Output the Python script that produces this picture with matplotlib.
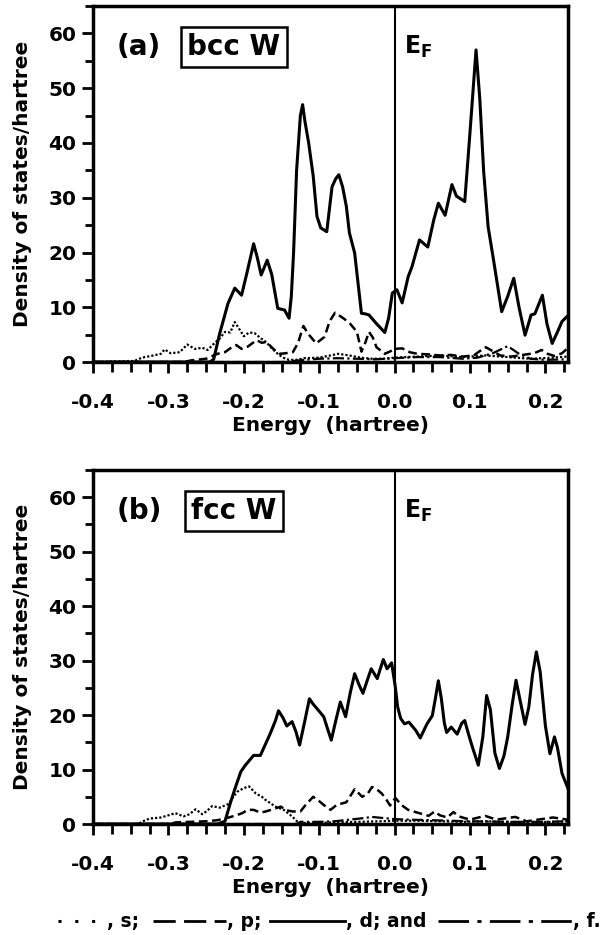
import matplotlib
matplotlib.use("Agg")
import matplotlib.pyplot as plt
from matplotlib.lines import Line2D
from matplotlib.ticker import MultipleLocator

plt.rcParams["font.family"] = "DejaVu Sans"
plt.rcParams["font.weight"] = "bold"
plt.rcParams["mathtext.fontset"] = "dejavusans"

# ---- bcc W partial densities of states (states/hartree) ----
bcc_d_E = [-0.40, -0.245, -0.240, -0.232, -0.221, -0.212, -0.203, -0.196, -0.187, -0.182,
           -0.177, -0.169, -0.163, -0.155, -0.146, -0.140, -0.137, -0.134, -0.130, -0.125,
           -0.122, -0.119, -0.114, -0.108, -0.103, -0.098, -0.090, -0.083, -0.078, -0.074,
           -0.069, -0.064, -0.060, -0.053, -0.044, -0.039, -0.034, -0.024, -0.013, -0.008,
           -0.003, 0.003, 0.010, 0.018, 0.023, 0.033, 0.044, 0.052, 0.058, 0.067,
           0.076, 0.082, 0.093, 0.100, 0.108, 0.113, 0.118, 0.124, 0.131, 0.142,
           0.150, 0.158, 0.165, 0.173, 0.181, 0.186, 0.196, 0.202, 0.209, 0.216,
           0.222, 0.230]
bcc_d = [0.0, 0.0, 0.5, 5.2, 10.7, 13.5, 12.2, 16.2, 21.6, 19.0,
         15.9, 18.6, 16.0, 9.8, 9.5, 8.0, 12.0, 20.0, 35.0, 45.0,
         47.0, 44.0, 40.0, 34.0, 26.6, 24.5, 23.8, 32.0, 33.5, 34.2,
         32.0, 28.4, 23.6, 19.9, 8.9, 8.8, 8.6, 7.0, 5.4, 8.0,
         12.6, 13.2, 10.8, 15.6, 17.4, 22.3, 21.0, 26.0, 29.0, 26.8,
         32.4, 30.3, 29.3, 42.0, 57.0, 48.0, 35.0, 24.7, 18.8, 9.2,
         12.0, 15.3, 10.0, 4.9, 8.6, 8.8, 12.2, 7.0, 3.4, 5.5,
         7.4, 8.5]

bcc_p_E = [-0.40, -0.28, -0.27, -0.25, -0.235, -0.225, -0.215, -0.210, -0.203, -0.195,
           -0.183, -0.176, -0.170, -0.161, -0.152, -0.145, -0.135, -0.128, -0.121, -0.115,
           -0.104, -0.093, -0.086, -0.079, -0.068, -0.059, -0.050, -0.044, -0.039, -0.034,
           -0.029, -0.024, -0.013, -0.005, 0.000, 0.010, 0.020, 0.030, 0.045, 0.060,
           0.075, 0.090, 0.105, 0.113, 0.121, 0.130, 0.140, 0.155, 0.170, 0.185,
           0.195, 0.203, 0.212, 0.222, 0.230]
bcc_p = [0.0, 0.0, 0.3, 0.6, 1.5, 1.8, 2.8, 3.1, 2.4, 2.8,
         4.0, 3.5, 3.7, 2.4, 1.5, 1.6, 1.8, 3.5, 6.6, 5.2,
         3.4, 4.6, 7.5, 9.0, 8.0, 7.0, 5.5, 1.9, 3.5, 5.5,
         4.5, 2.7, 1.5, 2.0, 2.4, 2.5, 1.8, 1.5, 1.4, 1.2,
         1.3, 1.0, 1.2, 2.0, 2.7, 2.0, 1.2, 1.0, 1.3, 1.6,
         2.2, 1.5, 1.1, 1.6, 2.6]

bcc_s_E = [-0.40, -0.345, -0.335, -0.320, -0.310, -0.305, -0.297, -0.285, -0.275, -0.265,
           -0.255, -0.248, -0.240, -0.232, -0.225, -0.218, -0.212, -0.205, -0.200, -0.193,
           -0.186, -0.178, -0.170, -0.163, -0.155, -0.148, -0.140, -0.130, -0.120, -0.100,
           -0.085, -0.075, -0.060, -0.045, -0.030, -0.015, 0.000, 0.030, 0.060, 0.090,
           0.120, 0.150, 0.180, 0.210, 0.230]
bcc_s = [0.0, 0.2, 0.8, 1.2, 1.5, 2.3, 1.6, 1.8, 3.2, 2.4,
         2.6, 2.2, 3.3, 4.3, 5.5, 5.4, 7.3, 5.8, 4.7, 5.4,
         5.3, 4.4, 3.6, 2.5, 1.5, 0.8, 0.4, 0.4, 0.7, 0.8,
         1.2, 1.5, 1.2, 0.8, 0.6, 0.6, 0.8, 1.0, 1.2, 0.9,
         1.2, 0.9, 0.6, 0.8, 1.0]

bcc_f_E = [-0.40, -0.150, -0.140, -0.120, -0.100, -0.075, -0.050, -0.025, 0.000, 0.030,
           0.060, 0.090, 0.110, 0.130, 0.150, 0.165, 0.180, 0.200, 0.230]
bcc_f = [0.0, 0.0, 0.1, 0.4, 0.6, 0.7, 0.6, 0.5, 0.7, 0.9,
         0.9, 0.6, 0.8, 1.6, 2.9, 1.5, 0.6, 0.4, 0.5]

# ---- fcc W partial densities of states (states/hartree) ----
fcc_d_E = [-0.40, -0.235, -0.225, -0.218, -0.211, -0.204, -0.198, -0.187, -0.178, -0.165,
           -0.158, -0.154, -0.148, -0.143, -0.136, -0.131, -0.126, -0.119, -0.113, -0.108,
           -0.103, -0.094, -0.089, -0.084, -0.078, -0.072, -0.065, -0.059, -0.053, -0.047,
           -0.042, -0.036, -0.031, -0.023, -0.019, -0.015, -0.010, -0.004, 0.001, 0.004,
           0.008, 0.013, 0.019, 0.028, 0.034, 0.043, 0.050, 0.054, 0.058, 0.062,
           0.066, 0.069, 0.075, 0.083, 0.089, 0.093, 0.098, 0.103, 0.111, 0.117,
           0.122, 0.127, 0.133, 0.139, 0.145, 0.150, 0.156, 0.161, 0.166, 0.173,
           0.178, 0.183, 0.188, 0.193, 0.200, 0.206, 0.212, 0.216, 0.222, 0.230]
fcc_d = [0.0, 0.0, 0.5, 3.8, 6.8, 9.6, 10.8, 12.6, 12.6, 16.6,
         19.0, 20.8, 19.5, 18.0, 18.8, 17.0, 14.5, 19.0, 23.0, 22.0,
         21.2, 19.7, 17.5, 15.4, 19.0, 22.4, 19.7, 24.0, 27.6, 25.5,
         24.0, 26.5, 28.5, 26.7, 28.5, 30.2, 28.5, 29.6, 25.1, 21.5,
         19.4, 18.4, 18.7, 17.2, 15.8, 18.4, 19.9, 23.0, 26.3, 23.0,
         18.5, 16.8, 17.8, 16.5, 18.5, 19.0, 16.5, 14.2, 10.8, 16.0,
         23.6, 21.0, 13.0, 10.2, 12.5, 16.0, 22.0, 26.4, 23.0, 18.3,
         21.5, 27.5, 31.6, 28.0, 18.0, 12.9, 16.0, 14.0, 9.3, 6.5]

fcc_p_E = [-0.40, -0.300, -0.290, -0.270, -0.250, -0.235, -0.220, -0.210, -0.202, -0.195,
           -0.187, -0.178, -0.171, -0.164, -0.151, -0.143, -0.135, -0.125, -0.118, -0.108,
           -0.100, -0.094, -0.085, -0.077, -0.064, -0.053, -0.043, -0.036, -0.030, -0.023,
           -0.017, -0.011, -0.006, 0.001, 0.009, 0.018, 0.030, 0.045, 0.053, 0.060,
           0.070, 0.078, 0.085, 0.100, 0.120, 0.135, 0.160, 0.175, 0.190, 0.210,
           0.230]
fcc_p = [0.0, 0.0, 0.3, 0.4, 0.5, 0.7, 1.2, 1.6, 2.0, 2.6,
         2.6, 2.1, 2.3, 2.6, 3.2, 2.5, 2.3, 2.3, 3.5, 5.0,
         4.2, 3.5, 2.6, 3.5, 4.0, 6.4, 5.0, 5.5, 6.8, 6.3,
         5.6, 4.5, 3.4, 4.8, 3.5, 2.6, 2.1, 1.5, 2.3, 1.6,
         1.2, 2.2, 1.4, 0.8, 1.5, 0.8, 1.3, 0.5, 0.8, 1.2,
         0.8]

fcc_s_E = [-0.40, -0.340, -0.334, -0.325, -0.310, -0.300, -0.291, -0.280, -0.272, -0.264,
           -0.255, -0.248, -0.242, -0.232, -0.220, -0.214, -0.209, -0.200, -0.193, -0.184,
           -0.176, -0.171, -0.158, -0.147, -0.136, -0.128, -0.120, -0.100, -0.080, -0.050,
           -0.020, 0.000, 0.030, 0.060, 0.090, 0.120, 0.150, 0.180, 0.210, 0.230]
fcc_s = [0.0, 0.0, 0.5, 1.0, 1.2, 1.6, 2.0, 1.4, 1.8, 2.7,
         1.8, 2.5, 3.3, 3.0, 3.7, 5.0, 5.9, 6.6, 6.9, 5.6,
         5.0, 4.4, 3.2, 2.6, 1.4, 0.3, 0.2, 0.2, 0.3, 0.4,
         0.5, 0.6, 0.6, 0.5, 0.4, 0.5, 0.4, 0.3, 0.4, 0.5]

fcc_f_E = [-0.40, -0.130, -0.125, -0.100, -0.080, -0.060, -0.040, -0.030, -0.015, 0.000,
           0.020, 0.050, 0.100, 0.150, 0.200, 0.230]
fcc_f = [0.0, 0.0, 0.4, 0.4, 0.5, 0.8, 1.1, 1.3, 1.1, 0.9,
         0.8, 0.7, 0.5, 0.4, 0.4, 0.5]

panels = [
    ("(a)", "bcc W", bcc_s_E, bcc_s, bcc_p_E, bcc_p, bcc_d_E, bcc_d, bcc_f_E, bcc_f),
    ("(b)", "fcc W", fcc_s_E, fcc_s, fcc_p_E, fcc_p, fcc_d_E, fcc_d, fcc_f_E, fcc_f),
]

s_style = dict(color="black", lw=1.6, linestyle=(0, (1.0, 0.9)))
p_style = dict(color="black", lw=1.8, linestyle=(0, (3.5, 1.8)))
d_style = dict(color="black", lw=2.2, linestyle="-")
f_style = dict(color="black", lw=1.6, linestyle=(0, (5, 1.5, 1, 1.5)))

fig = plt.figure(figsize=(6.1, 9.35), dpi=100)
axes_rects = [[0.1525, 0.6128, 0.7787, 0.3807],
              [0.1525, 0.1187, 0.7787, 0.3786]]

for rect, (tag, name, sE, s, pE, p, dE, d, fE, f) in zip(axes_rects, panels):
    ax = fig.add_axes(rect)
    ax.plot(sE, s, **s_style)
    ax.plot(pE, p, **p_style)
    ax.plot(fE, f, **f_style)
    ax.plot(dE, d, **d_style)
    ax.axvline(0.0, color="black", lw=1.5)

    ax.set_xlim(-0.4, 0.23)
    ax.set_ylim(0, 65)
    ax.xaxis.set_major_locator(MultipleLocator(0.1))
    ax.xaxis.set_minor_locator(MultipleLocator(0.025))
    ax.yaxis.set_major_locator(MultipleLocator(10))
    ax.yaxis.set_minor_locator(MultipleLocator(5))
    ax.set_xticks([-0.4, -0.3, -0.2, -0.1, 0.0, 0.1, 0.2])
    ax.set_xticklabels(["-0.4", "-0.3", "-0.2", "-0.1", "0.0", "0.1", "0.2"])
    ax.tick_params(which="both", direction="out", width=2, top=False, right=False,
                   labelsize=14.5)
    ax.tick_params(axis="x", which="major", length=8, pad=14)
    ax.tick_params(axis="x", which="minor", length=7)
    ax.tick_params(axis="y", which="major", length=8, pad=4)
    ax.tick_params(axis="y", which="minor", length=6)
    for sp in ax.spines.values():
        sp.set_linewidth(2.5)

    ax.set_xlabel("Energy  (hartree)", fontsize=14.5, fontweight="bold", labelpad=3)
    ax.set_ylabel("Density of states/hartree", fontsize=14.5, fontweight="bold",
                  labelpad=12)

    ax.text(-0.339, 57.5, tag, fontsize=20, fontweight="bold", ha="center", va="center")
    ax.text(-0.213, 57.5, name, fontsize=20, fontweight="bold", ha="center", va="center",
            bbox=dict(boxstyle="square,pad=0.22", facecolor="white", edgecolor="black",
                      lw=1.8))
    ax.text(0.012, 57.5, r"$\mathbf{E}_{\mathbf{F}}$", fontsize=17, ha="left",
            va="center")

# legend line written out under the lower panel
W, H = 610.0, 935.0
y_txt = 1 - 927 / H
y_ln = 1 - 921 / H


def sample(x0, x1, style):
    fig.add_artist(Line2D([x0 / W, x1 / W], [y_ln, y_ln], transform=fig.transFigure,
                          **style))


def label(x0, s):
    fig.text(x0 / W, y_txt, s, fontsize=13.5, fontweight="bold", ha="left",
             va="baseline")


sample(58, 106, dict(color="black", lw=2.2, linestyle=(0, (1, 4.5))))
label(107, ", s;")
sample(153, 226, dict(color="black", lw=2.0, linestyle=(0, (8, 3))))
label(227, ", p;")
sample(270, 345, dict(color="black", lw=2.0, linestyle="-"))
label(346, ", d; and")
sample(438, 572, dict(color="black", lw=2.0, linestyle=(0, (11, 3, 1.5, 3))))
label(573, ", f.")

fig.savefig("out.png", dpi=100)
